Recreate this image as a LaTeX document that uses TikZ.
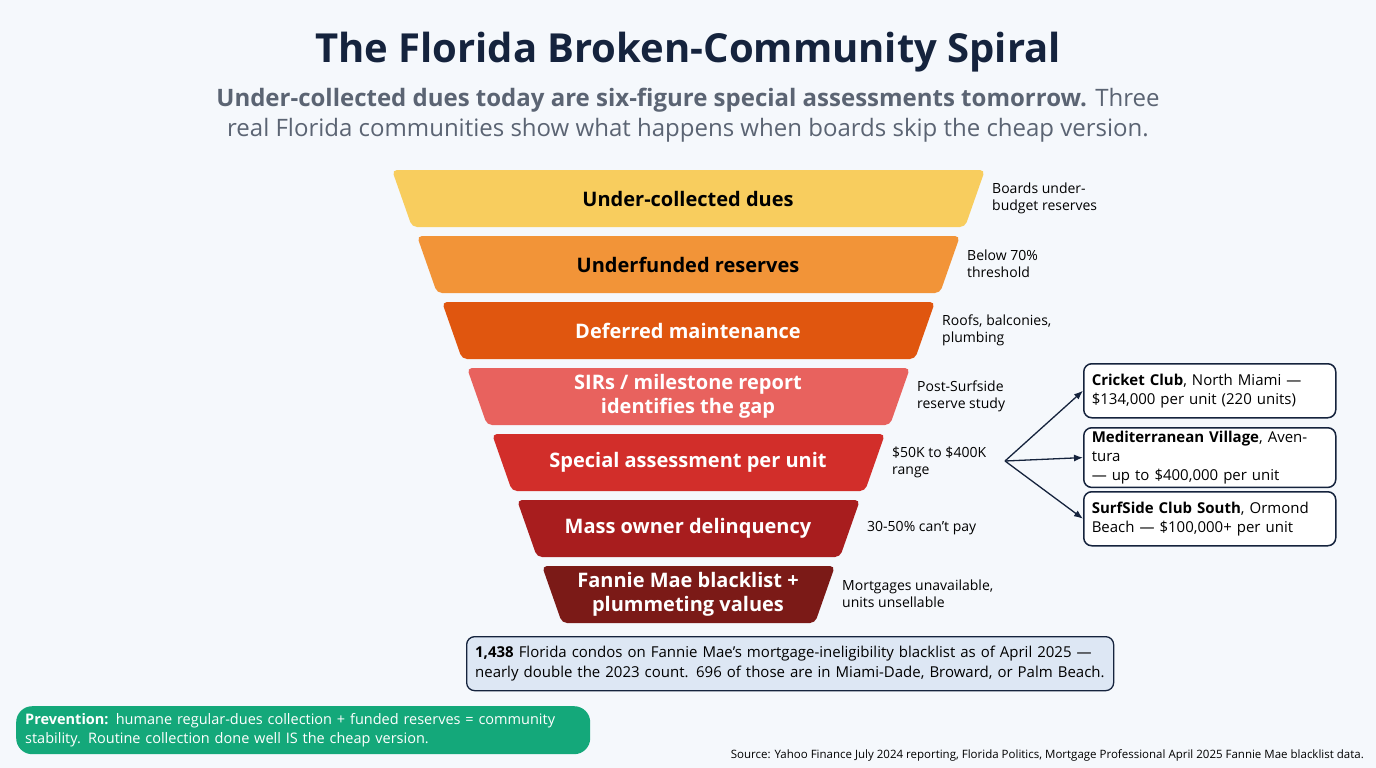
\documentclass[tikz,border=0pt]{standalone}
\usepackage{fontspec}
\setmainfont{Open Sans}
\usetikzlibrary{arrows.meta}
\definecolor{bg}{HTML}{F5F8FC}
\definecolor{navy}{HTML}{15233D}
\definecolor{sub}{HTML}{5B6473}
\definecolor{c1}{HTML}{F8CD5E}
\definecolor{c2}{HTML}{F29438}
\definecolor{c3}{HTML}{E0560F}
\definecolor{c4}{HTML}{E8625E}
\definecolor{c5}{HTML}{D22E2A}
\definecolor{c6}{HTML}{A81D1E}
\definecolor{c7}{HTML}{7B1A17}
\definecolor{bluebox}{HTML}{DDE7F4}
\definecolor{green}{HTML}{14A87A}
\begin{document}
\begin{tikzpicture}[x=1pt,y=-1pt,
  note/.style={anchor=west,align=left,font=\fontsize{14}{17}\selectfont,text=black,inner sep=0},
  lab/.style={font=\fontsize{20}{24}\selectfont\bfseries,align=center},
  cbox/.style={draw=navy,line width=1.5pt,fill=white,rounded corners=8pt,minimum width=252pt,minimum height=54pt,text width=236pt,align=left,font=\fontsize{15}{19}\selectfont,anchor=north west},
  arr/.style={navy,line width=1.3pt,-{Latex[length=9pt,width=7pt]}}]
\fill[bg] (0,0) rectangle (1376,768);
\node[text=navy,font=\fontsize{40}{46}\selectfont\bfseries] (title) at (688,52) {The Florida Broken-Community Spiral};
\node[text=sub,font=\fontsize{24}{30}\selectfont,align=center] (subt) at (688,115) {\textbf{Under-collected dues today are six-figure special assessments tomorrow.} Three\\real Florida communities show what happens when boards skip the cheap version.};
\foreach \i/\c/\t/\tc/\n in {
 0/c1/{Under-collected dues}/black/{Boards under-\\budget reserves},
 1/c2/{Underfunded reserves}/black/{Below 70\%\\threshold},
 2/c3/{Deferred maintenance}/white/{Roofs, balconies,\\plumbing},
 3/c4/{SIRs / milestone report\\identifies the gap}/white/{Post-Surfside\\reserve study},
 4/c5/{Special assessment per unit}/white/{\$50K to \$400K\\range},
 5/c6/{Mass owner delinquency}/white/{30-50\% can't pay},
 6/c7/{Fannie Mae blacklist +\\plummeting values}/white/{Mortgages unavailable,\\units unsellable}}{
 \pgfmathsetmacro\yt{170+66*\i}
 \pgfmathsetmacro\yb{\yt+57}
 \pgfmathsetmacro\xl{392+25*\i}
 \pgfmathsetmacro\xr{985-25*\i}
 \fill[\c,rounded corners=5pt] (\xl,\yt) -- (\xr,\yt) -- (\xr-20,\yb) -- (\xl+20,\yb) -- cycle;
 \node[lab,text=\tc] (s\i) at (688,\yt+28.5) {\t};
 \node[note] (n\i) at (\xr+7,\yt+28) {\n};
}
\node[cbox] (b1) at (1083,363) {\textbf{Cricket Club}, North Miami —\\\$134,000 per unit (220 units)};
\node[cbox] (b2) at (1083,427) {\textbf{Mediterranean Village}, Aventura\\— up to \$400,000 per unit};
\node[cbox] (b3) at (1083,491) {\textbf{SurfSide Club South}, Ormond\\Beach — \$100,000+ per unit};
\coordinate (hub) at (1005,461);
\draw[arr] (hub) -- (b1.west);
\draw[arr] (hub) -- (b2.west);
\draw[arr] (hub) -- (b3.west);
\node[draw=navy,line width=1.3pt,fill=bluebox,rounded corners=8pt,minimum width=647pt,minimum height=54pt,text width=630pt,align=left,font=\fontsize{15}{20}\selectfont,anchor=north west] (stat) at (466,636) {\textbf{1,438} Florida condos on Fannie Mae’s mortgage-ineligibility blacklist as of April 2025 —\\nearly double the 2023 count. 696 of those are in Miami-Dade, Broward, or Palm Beach.};
\node[fill=green,rounded corners=16pt,minimum width=574pt,minimum height=48pt,text width=556pt,align=left,text=white,font=\fontsize{14.5}{19}\selectfont,anchor=north west] (prev) at (16,706) {\textbf{Prevention:} humane regular-dues collection + funded reserves = community\\stability. Routine collection done well IS the cheap version.};
\node[anchor=east,font=\fontsize{11.5}{14}\selectfont,inner sep=0] (src) at (1364,755) {Source: Yahoo Finance July 2024 reporting, Florida Politics, Mortgage Professional April 2025 Fannie Mae blacklist data.};
\end{tikzpicture}
\end{document}
